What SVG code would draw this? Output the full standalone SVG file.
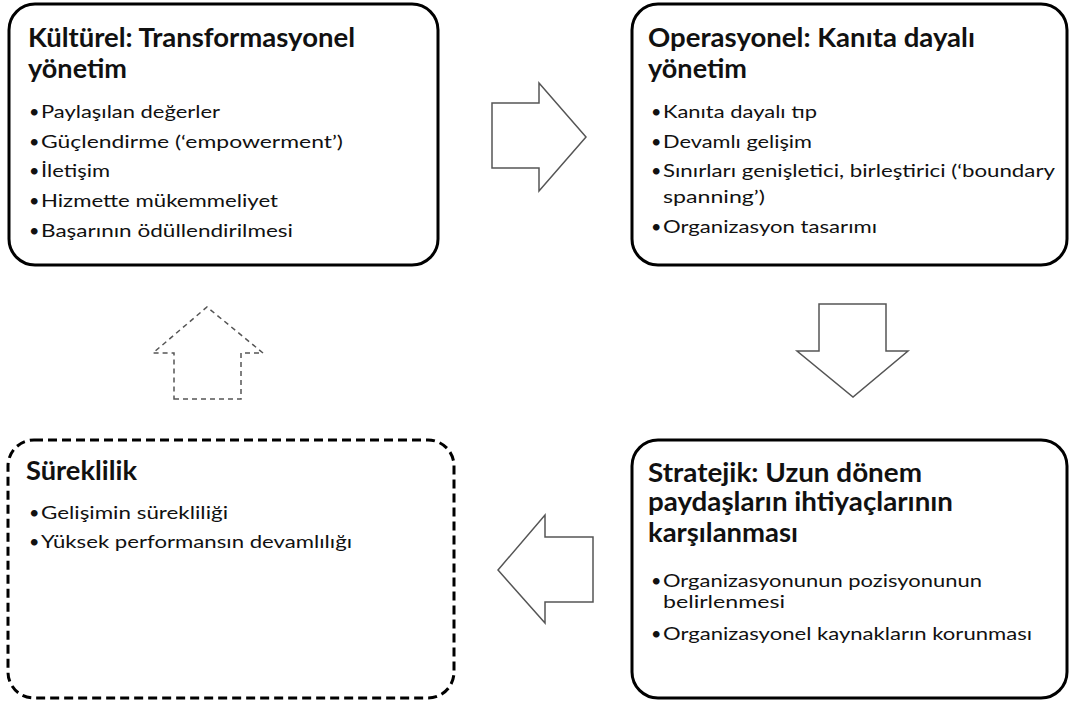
<svg xmlns="http://www.w3.org/2000/svg" width="1069" height="706" viewBox="0 0 1069 706">
  <style>
    .box { fill: #ffffff; stroke: #000000; stroke-width: 3; }
    .dashed { stroke-dasharray: 9 5; }
    .title { font-family: Lato, "Liberation Sans", sans-serif; font-weight: bold; font-size: 26px; fill: #111111; }
    .item { font-family: Lato, "Liberation Sans", sans-serif; font-size: 18px; fill: #111111; }
    .arrow { fill: #ffffff; stroke: #555555; stroke-width: 1.5; stroke-linejoin: miter; }
    .arrow-dash { stroke-dasharray: 5 4; }
  </style>
  <rect width="1069" height="706" fill="#ffffff"/>

  <!-- Kültürel -->
  <g id="kulturel">
    <rect class="box" x="9" y="4" width="429" height="261" rx="26" ry="26"/>
    <text class="title" x="28" y="47" textLength="327" lengthAdjust="spacingAndGlyphs">Kültürel: Transformasyonel</text>
    <text class="title" x="28" y="78" textLength="99" lengthAdjust="spacingAndGlyphs">yönetim</text>
    <g class="item">
      <text x="29" y="118">•</text><text x="41" y="118" textLength="179" lengthAdjust="spacingAndGlyphs">Paylaşılan değerler</text>
      <text x="29" y="148">•</text><text x="41" y="148" textLength="302" lengthAdjust="spacingAndGlyphs">Güçlendirme (‘empowerment’)</text>
      <text x="29" y="177">•</text><text x="41" y="177" textLength="69" lengthAdjust="spacingAndGlyphs">İletişim</text>
      <text x="29" y="207">•</text><text x="41" y="207" textLength="237" lengthAdjust="spacingAndGlyphs">Hizmette mükemmeliyet</text>
      <text x="29" y="237">•</text><text x="41" y="237" textLength="252" lengthAdjust="spacingAndGlyphs">Başarının ödüllendirilmesi</text>
    </g>
  </g>

  <!-- Operasyonel -->
  <g id="operasyonel">
    <rect class="box" x="632" y="4" width="435" height="261" rx="26" ry="26"/>
    <text class="title" x="648" y="47" textLength="327" lengthAdjust="spacingAndGlyphs">Operasyonel: Kanıta dayalı</text>
    <text class="title" x="648" y="78" textLength="99" lengthAdjust="spacingAndGlyphs">yönetim</text>
    <g class="item">
      <text x="651" y="118">•</text><text x="663" y="118" textLength="154" lengthAdjust="spacingAndGlyphs">Kanıta dayalı tıp</text>
      <text x="651" y="148">•</text><text x="663" y="148" textLength="149" lengthAdjust="spacingAndGlyphs">Devamlı gelişim</text>
      <text x="651" y="177">•</text><text x="663" y="177" textLength="392" lengthAdjust="spacingAndGlyphs">Sınırları genişletici, birleştirici (‘boundary</text>
      <text x="663" y="203" textLength="102" lengthAdjust="spacingAndGlyphs">spanning’)</text>
      <text x="651" y="233">•</text><text x="663" y="233" textLength="214" lengthAdjust="spacingAndGlyphs">Organizasyon tasarımı</text>
    </g>
  </g>

  <!-- Stratejik -->
  <g id="stratejik">
    <rect class="box" x="632" y="440" width="435" height="258" rx="26" ry="26"/>
    <text class="title" x="648" y="482" textLength="274" lengthAdjust="spacingAndGlyphs">Stratejik: Uzun dönem</text>
    <text class="title" x="648" y="511" textLength="305" lengthAdjust="spacingAndGlyphs">paydaşların ihtiyaçlarının</text>
    <text class="title" x="648" y="542" textLength="150" lengthAdjust="spacingAndGlyphs">karşılanması</text>
    <g class="item">
      <text x="651" y="587">•</text><text x="663" y="587" textLength="319" lengthAdjust="spacingAndGlyphs">Organizasyonunun pozisyonunun</text>
      <text x="663" y="608" textLength="122" lengthAdjust="spacingAndGlyphs">belirlenmesi</text>
      <text x="651" y="640">•</text><text x="663" y="640" textLength="369" lengthAdjust="spacingAndGlyphs">Organizasyonel kaynakların korunması</text>
    </g>
  </g>

  <!-- Süreklilik -->
  <g id="sureklilik">
    <rect class="box dashed" x="8" y="440" width="446" height="258" rx="26" ry="26"/>
    <text class="title" x="26" y="480" textLength="111" lengthAdjust="spacingAndGlyphs">Süreklilik</text>
    <g class="item">
      <text x="29" y="519">•</text><text x="41" y="519" textLength="187" lengthAdjust="spacingAndGlyphs">Gelişimin sürekliliği</text>
      <text x="29" y="548">•</text><text x="41" y="548" textLength="311" lengthAdjust="spacingAndGlyphs">Yüksek performansın devamlılığı</text>
    </g>
  </g>

  <!-- block arrows between stages -->
  <g id="connectors">
    <polygon class="arrow" points="492,103 539,103 539,83 586,137 539,191 539,168 492,168"/>
    <polygon class="arrow" points="819,304 886,304 886,351 908,351 853,397 797,351 819,351"/>
    <polygon class="arrow" points="593,537 545,537 545,515 498,570 545,623 545,602 593,602"/>
    <polygon class="arrow arrow-dash" points="174,399 241,399 241,353 263,353 207,307 153,353 174,353"/>
  </g>
</svg>
